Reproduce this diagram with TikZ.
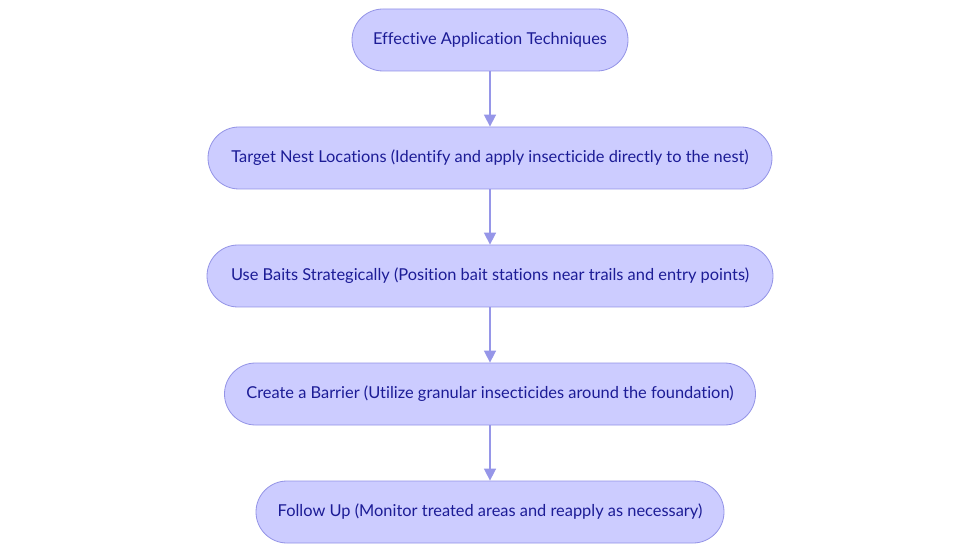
\documentclass[tikz,border=0pt]{standalone}
\usepackage{fontspec}
\setmainfont{Lato}[Ligatures={NoCommon}]
\usetikzlibrary{arrows.meta}
\definecolor{boxfill}{RGB}{204,204,255}
\definecolor{boxdraw}{RGB}{147,147,230}
\definecolor{txt}{RGB}{28,28,150}
\definecolor{arr}{RGB}{150,150,232}
\tikzset{
  pill/.style={draw=boxdraw, fill=boxfill, line width=0.8pt, rounded corners=31pt,
    minimum height=62pt, text=txt, font=\fontsize{16.4pt}{19pt}\selectfont, inner sep=0pt},
  conn/.style={draw=arr, line width=1.6pt, -{Triangle[length=12pt,width=12pt]}}
}
\begin{document}
\begin{tikzpicture}[x=1pt,y=-1pt]
\useasboundingbox (0,0) rectangle (980,553);
\node[pill, minimum width=276pt] (n1) at (490,40) {Effective Application Techniques};
\node[pill, minimum width=564pt] (n2) at (490,158) {Target Nest Locations (Identify and apply insecticide directly to the nest)};
\node[pill, minimum width=566pt] (n3) at (490,276) {Use Baits Strategically (Position bait stations near trails and entry points)};
\node[pill, minimum width=531pt] (n4) at (490,394) {Create a Barrier (Utilize granular insecticides around the foundation)};
\node[pill, minimum width=468pt] (n5) at (490,512) {Follow Up (Monitor treated areas and reapply as necessary)};
\draw[conn] (n1) -- (n2);
\draw[conn] (n2) -- (n3);
\draw[conn] (n3) -- (n4);
\draw[conn] (n4) -- (n5);
\end{tikzpicture}
\end{document}
